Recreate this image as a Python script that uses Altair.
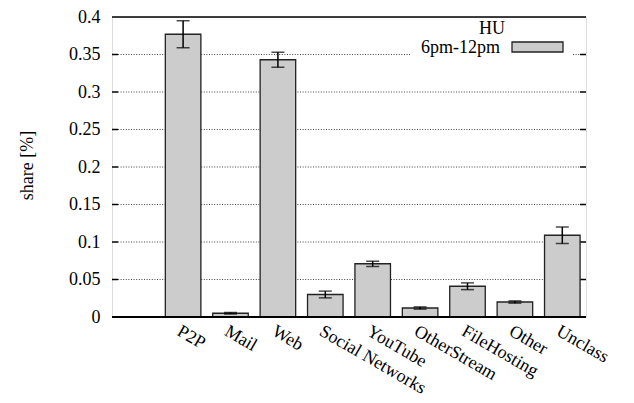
import altair as alt
import pandas as pd

categories = ["P2P", "Mail", "Web", "Social Networks", "YouTube", "OtherStream",
              "FileHosting", "Other", "Unclass"]
share = [0.377, 0.005, 0.343, 0.030, 0.071, 0.012, 0.041, 0.020, 0.109]
err = [0.018, 0.001, 0.010, 0.0045, 0.0035, 0.0015, 0.0045, 0.0015, 0.011]
y_ticks = [0, 0.05, 0.1, 0.15, 0.2, 0.25, 0.3, 0.35, 0.4]
grid_vals = [0.05, 0.1, 0.15, 0.2, 0.25, 0.3, 0.35]
legend_title = "HU"
legend_label = "6pm-12pm"

FONT = "Liberation Serif"
W, H = 474, 300
TOP = 9

df = pd.DataFrame({"cat": categories, "share": share, "err": err})
df["lo"] = df["share"] - df["err"]
df["hi"] = df["share"] + df["err"]
gdf = pd.DataFrame({"v": grid_vals})
bdf = pd.DataFrame({"v": [0.0, 0.4], "w": [2.0, 1.5]})
one = pd.DataFrame({"k": [0]})

xscale = alt.Scale(domain=[""] + categories, paddingInner=0.25, paddingOuter=0.125)
yscale = alt.Scale(domain=[0, 0.4], nice=False, zero=True)
xaxis = alt.Axis(labelAngle=30, labelAlign="left", labelBaseline="top", ticks=False,
                 domain=False, labelPadding=5, labelFont=FONT, labelFontSize=18,
                 labelColor="black", title=None, labelOverlap=False)
yaxis = alt.Axis(values=y_ticks, format="~g", ticks=False, domain=False, grid=False,
                 labelPadding=12, labelFont=FONT, labelFontSize=18, labelColor="black",
                 title="share [%]", titleFont=FONT, titleFontSize=18,
                 titleFontWeight="normal", titleColor="black", titleX=-85, titleY=148,
                 titleAngle=-90, titleBaseline="middle", titleAlign="center")

Y = lambda f: alt.Y(f, type="quantitative", scale=yscale, axis=yaxis)

grid = alt.Chart(gdf).mark_rule(color="#444", strokeDash=[1, 1.6], strokeWidth=1).encode(
    x=alt.value(6), x2=alt.value(W - 6), y=Y("v"))
tick_l = alt.Chart(gdf).mark_rule(color="black", strokeWidth=1.5).encode(
    x=alt.value(0), x2=alt.value(6), y=Y("v"))
tick_r = alt.Chart(gdf).mark_rule(color="black", strokeWidth=1.5).encode(
    x=alt.value(W - 6), x2=alt.value(W), y=Y("v"))
legend_bg = alt.Chart(one).mark_rect(fill="white").encode(
    x=alt.value(298), x2=alt.value(461), y=alt.value(3), y2=alt.value(42))

bars = alt.Chart(df).mark_bar(fill="#cccccc", stroke="#222", strokeWidth=1.3).encode(
    x=alt.X("cat:N", scale=xscale, axis=xaxis, sort=None), y=Y("share"))
erule = alt.Chart(df).mark_rule(color="black", strokeWidth=1.5).encode(
    x=alt.X("cat:N", scale=xscale, axis=xaxis, sort=None), y=Y("lo"), y2="hi")
cap_lo = alt.Chart(df).mark_tick(color="black", size=13, thickness=1.5, orient="horizontal").encode(
    x=alt.X("cat:N", scale=xscale, axis=xaxis, sort=None), y=Y("lo"))
cap_hi = alt.Chart(df).mark_tick(color="black", size=13, thickness=1.5, orient="horizontal").encode(
    x=alt.X("cat:N", scale=xscale, axis=xaxis, sort=None), y=Y("hi"))

border = alt.Chart(bdf).mark_rule(color="black").encode(
    x=alt.value(0), x2=alt.value(W), y=Y("v"),
    strokeWidth=alt.StrokeWidth("w:Q", scale=None, legend=None))

leg_t = alt.Chart(one).mark_text(font=FONT, fontSize=18, color="black", align="center",
                                 baseline="middle").encode(
    x=alt.value(380), y=alt.value(12), text=alt.value(legend_title))
leg_l = alt.Chart(one).mark_text(font=FONT, fontSize=18, color="black", align="right",
                                 baseline="middle").encode(
    x=alt.value(388), y=alt.value(31), text=alt.value(legend_label))
leg_s = alt.Chart(one).mark_rect(fill="#cccccc", stroke="#222", strokeWidth=1.3).encode(
    x=alt.value(400), x2=alt.value(451), y=alt.value(25), y2=alt.value(35))

chart = alt.layer(grid, tick_l, tick_r, legend_bg, bars, erule, cap_lo, cap_hi, border,
                  leg_t, leg_l, leg_s).properties(
    width=W, height=H,
    autosize=alt.AutoSizeParams(type="none"),
    padding={"left": 104, "top": TOP, "right": 40, "bottom": 403 - 8 - TOP - H},
).configure_view(stroke=None).configure(background="white")

chart.save("out.html", embed_options={"renderer": "svg", "actions": False})
